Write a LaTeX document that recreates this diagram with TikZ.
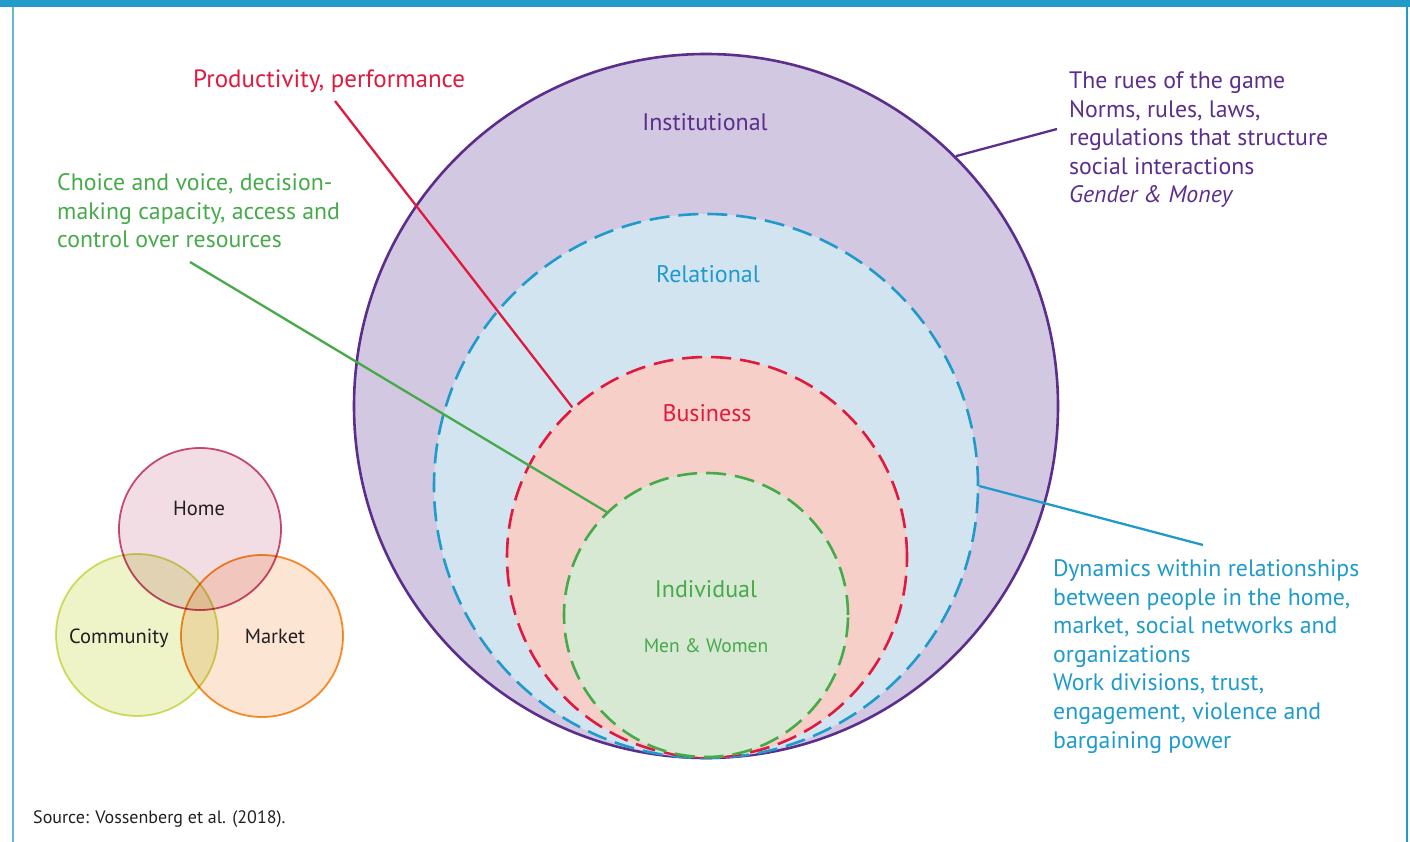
\documentclass[tikz,border=0pt]{standalone}
\usepackage{fontspec}
\setmainfont{PT Sans}
\usetikzlibrary{positioning}
\definecolor{framecol}{RGB}{33,155,201}
\definecolor{instcol}{RGB}{91,46,140}
\definecolor{instfill}{RGB}{210,200,225}
\definecolor{relcol}{RGB}{31,155,203}
\definecolor{relfill}{RGB}{211,228,241}
\definecolor{buscol}{RGB}{224,25,63}
\definecolor{busfill}{RGB}{246,208,200}
\definecolor{indcol}{RGB}{70,170,74}
\definecolor{indfill}{RGB}{215,232,211}
\definecolor{homecol}{RGB}{200,80,122}
\definecolor{homefill}{RGB}{242,221,229}
\definecolor{commcol}{RGB}{213,224,106}
\definecolor{commfill}{RGB}{238,243,200}
\definecolor{marketcol}{RGB}{247,146,46}
\definecolor{marketfill}{RGB}{253,229,211}
\definecolor{inkcol}{RGB}{35,31,32}
\begin{document}
\begin{tikzpicture}[x=1pt,y=-1pt,
  ring/.style={circle,inner sep=0pt,line width=2.6pt},
  dashring/.style={ring,dash pattern=on 20pt off 9pt},
  venn/.style={circle,inner sep=0pt,minimum size=162pt,line width=1.8pt},
  lbl/.style={font=\fontsize{24}{28.6}\selectfont,anchor=base,inner sep=0pt},
  note/.style={font=\fontsize{23.8}{28.6}\selectfont,align=left,anchor=base west,inner sep=0pt},
  small/.style={font=\fontsize{20.5}{24}\selectfont,anchor=base,inner sep=0pt,text=inkcol},
  link/.style={line width=2.3pt}]
  \useasboundingbox (0,0) rectangle (1410,842);
  % frame
  \fill[framecol] (0,0) rectangle (1410,7);
  \draw[framecol!70,line width=2pt] (13,7) -- (13,842);
  \draw[framecol,line width=2pt] (1407,7) -- (1407,842);

  % nested circles
  \node[ring,draw=instcol,fill=instfill,minimum size=704pt] (inst) at (706,406) {};
  \node[dashring,draw=relcol,fill=relfill,minimum size=544pt] (rel) at (706,486) {};
  \node[dashring,draw=buscol,fill=busfill,minimum size=400pt] (bus) at (707,557) {};
  \node[dashring,draw=indcol,fill=indfill,minimum size=284pt] (ind) at (706,615) {};

  \node[lbl,text=instcol] (instlbl) at (705,131) {Institutional};
  \node[lbl,text=relcol] (rellbl) at (708,283) {Relational};
  \node[lbl,text=buscol] (buslbl) at (707,421) {Business};
  \node[lbl,text=indcol] (indlbl) at (706,597) {Individual};
  \node[lbl,text=indcol,font=\fontsize{19.5}{24}\selectfont] (menlbl) at (706,652) {Men \& Women};

  % side notes (anchored at the baseline of the last line)
  \node[note,text=buscol,font=\fontsize{25}{28.6}\selectfont] (prodtxt) at (193,88) {Productivity, performance};
  \node[note,text=indcol] (choicetxt) at (57,248)
    {Choice and voice, decision-\\making capacity, access and\\control over resources};
  \node[note,text=instcol] (rulestxt) at (1069,203)
    {The rues of the game\\Norms, rules, laws,\\regulations that structure\\social interactions\\\textit{Gender \& Money}};
  \node[note,text=relcol] (dyntxt) at (1053,748)
    {Dynamics within relationships\\between people in the home,\\market, social networks and\\organizations\\Work divisions, trust,\\engagement, violence and\\bargaining power};

  \coordinate (prodend) at (335,101);
  \coordinate (choiceend) at (190,262);
  \coordinate (rulesend) at (1057,129);
  \coordinate (dynend) at (1203,545);
  \draw[link,buscol] (prodend) -- (bus.132.6);
  \draw[link,indcol] (choiceend) -- (ind.134.1);
  \draw[link,instcol] (rulesend) -- (inst.45.6);
  \draw[link,relcol] (dynend) -- (rel.0.4);

  % home / community / market
  \begin{scope}[blend group=multiply]
    \node[venn,draw=commcol,fill=commfill] (comm) at (137,635) {};
    \node[venn,draw=marketcol,fill=marketfill] (market) at (262,636) {};
    \node[venn,draw=homecol,fill=homefill] (home) at (200,529) {};
  \end{scope}
  \node[small] (homelbl) at (199,515) {Home};
  \node[small] (commlbl) at (119,643) {Community};
  \node[small] (marketlbl) at (275,643) {Market};

  \node[font=\fontsize{18}{22}\selectfont,anchor=base west,inner sep=0pt,text=inkcol] (source) at (33,823) {Source: Vossenberg et al. (2018).};
\end{tikzpicture}
\end{document}
